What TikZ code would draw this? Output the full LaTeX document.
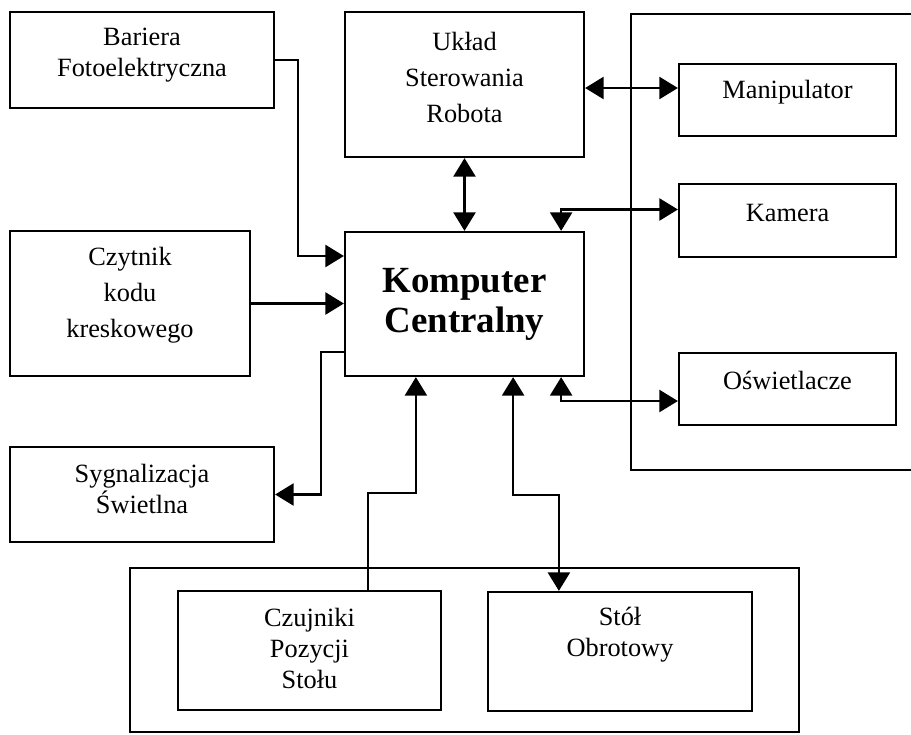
\documentclass[tikz,border=0pt]{standalone}
\usepackage{fontspec}
\setmainfont{Liberation Serif}
\usetikzlibrary{arrows.meta,calc}
\tikzset{
  blok/.style={draw, line width=1.3pt, align=center, inner sep=0pt,
    font=\fontsize{15pt}{17.5pt}\selectfont},
  ramka/.style={draw, line width=1.3pt},
  pol/.style={line width=1.3pt, -{Triangle[length=10.5pt,width=12.5pt]}},
  pol2/.style={line width=1.3pt, {Triangle[length=10.5pt,width=12.5pt]}-{Triangle[length=10.5pt,width=12.5pt]}}
}
\begin{document}
\begin{tikzpicture}[x=0.02cm, y=-0.02cm]
\clip (0,0) rectangle (911,734);
% ramki grup
\draw[ramka] (631,14) rectangle (950,470);
\draw[ramka] (130,568) rectangle (799,732);
% bloki
\node[blok, minimum width=5.28cm, minimum height=1.92cm, text depth=8.4pt] (bariera) at (142,60) {Bariera\\Fotoelektryczna};
\node[blok, minimum width=4.78cm, minimum height=2.9cm, text depth=8.5pt, font=\fontsize{15pt}{20.5pt}\selectfont] (uklad) at (464.5,84.5) {Układ\\Sterowania\\Robota};
\node[blok, minimum width=4.8cm, minimum height=2.9cm, text depth=12.3pt, font=\fontsize{15pt}{20.5pt}\selectfont] (czytnik) at (130,303.5) {Czytnik\\kodu\\kreskowego};
\node[blok, minimum width=4.78cm, minimum height=2.88cm, font=\fontsize{21pt}{22.7pt}\selectfont\bfseries] (komputer) at (464.5,304) {Komputer\\Centralny};
\node[blok, minimum width=4.34cm, minimum height=1.44cm, text depth=12.3pt] (manip) at (787.5,100) {Manipulator};
\node[blok, minimum width=4.34cm, minimum height=1.46cm, text depth=9pt] (kamera) at (787.5,220.5) {Kamera};
\node[blok, minimum width=4.34cm, minimum height=1.44cm, text depth=10.2pt] (oswiet) at (787.5,389) {Oświetlacze};
\node[blok, minimum width=5.28cm, minimum height=1.9cm, text depth=6.8pt] (sygnal) at (142,494.5) {Sygnalizacja\\Świetlna};
\node[blok, minimum width=5.26cm, minimum height=2.38cm, text depth=2.3pt] (czujniki) at (309.5,650.5) {Czujniki\\Pozycji\\Stołu};
\node[blok, minimum width=5.28cm, minimum height=2.38cm, text depth=22.5pt] (stol) at (620,651.5) {Stół\\Obrotowy};
% polaczenia
\coordinate (m1) at ($(manip.west)+(0,-12)$);
\draw[pol] (bariera.east) -- ++(23,0) |- ($(komputer.west)+(0,-48)$);
\draw[pol] (czytnik.east) -- (komputer.west |- czytnik.east);
\draw[pol] ($(komputer.west)+(0,48)$) -- ++(-23,0) |- (sygnal.east);
\draw[pol2] (uklad.south) -- (komputer.north);
\draw[pol2] (uklad.east |- m1) -- (m1);
\draw[pol2] ($(komputer.north east)+(-24,0)$) |- ($(kamera.west)+(0,-11)$);
\draw[pol2] ($(komputer.south east)+(-24,0)$) |- ($(oswiet.west)+(0,12)$);
\draw[pol2] ($(komputer.south east)+(-72,0)$) -- ++(0,118) -| ($(stol.north west)+(72,0)$);
\draw[pol] ($(czujniki.north west)+(191,0)$) -- ++(0,-97) -| ($(komputer.south west)+(72,0)$);
\end{tikzpicture}
\end{document}
